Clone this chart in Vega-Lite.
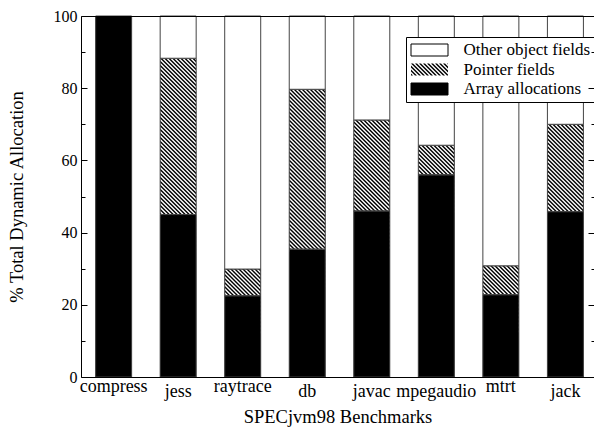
{
  "$schema": "https://vega.github.io/schema/vega-lite/v6.json",
  "width": 513,
  "height": 361,
  "autosize": {"type": "none"},
  "padding": {"left": 81, "top": 16, "right": 0, "bottom": 50},
  "background": "white",
  "config": {
    "font": "Liberation Serif",
    "view": {"stroke": null},
    "axis": {"grid": false, "labelColor": "black", "titleColor": "black", "titleFontWeight": "normal", "domainColor": "black", "tickColor": "black", "labelFont": "Liberation Serif", "titleFont": "Liberation Serif"}
  },
  "data": {
    "values": [
      {"benchmark": "compress", "type": "Array allocations", "value": 100},
      {"benchmark": "compress", "type": "Pointer fields", "value": 0},
      {"benchmark": "compress", "type": "Other object fields", "value": 0},
      {"benchmark": "jess", "type": "Array allocations", "value": 45.0},
      {"benchmark": "jess", "type": "Pointer fields", "value": 43.3},
      {"benchmark": "jess", "type": "Other object fields", "value": 11.7},
      {"benchmark": "raytrace", "type": "Array allocations", "value": 22.5},
      {"benchmark": "raytrace", "type": "Pointer fields", "value": 7.4},
      {"benchmark": "raytrace", "type": "Other object fields", "value": 70.1},
      {"benchmark": "db", "type": "Array allocations", "value": 35.4},
      {"benchmark": "db", "type": "Pointer fields", "value": 44.3},
      {"benchmark": "db", "type": "Other object fields", "value": 20.3},
      {"benchmark": "javac", "type": "Array allocations", "value": 46.0},
      {"benchmark": "javac", "type": "Pointer fields", "value": 25.2},
      {"benchmark": "javac", "type": "Other object fields", "value": 28.8},
      {"benchmark": "mpegaudio", "type": "Array allocations", "value": 56.0},
      {"benchmark": "mpegaudio", "type": "Pointer fields", "value": 8.2},
      {"benchmark": "mpegaudio", "type": "Other object fields", "value": 35.8},
      {"benchmark": "mtrt", "type": "Array allocations", "value": 22.8},
      {"benchmark": "mtrt", "type": "Pointer fields", "value": 8.0},
      {"benchmark": "mtrt", "type": "Other object fields", "value": 69.2},
      {"benchmark": "jack", "type": "Array allocations", "value": 45.8},
      {"benchmark": "jack", "type": "Pointer fields", "value": 24.2},
      {"benchmark": "jack", "type": "Other object fields", "value": 30.0}
    ]
  },
  "transform": [
    {"stack": "value", "groupby": ["benchmark"], "as": ["lo", "hi"]}
  ],
  "resolve": {"scale": {"y": "independent"}, "axis": {"x": "independent", "y": "independent"}},
  "layer": [
    {
      "mark": {"type": "bar"},
      "encoding": {
        "x": {
          "field": "benchmark", "type": "nominal",
          "sort": ["compress", "jess", "raytrace", "db", "javac", "mpegaudio", "mtrt", "jack"],
          "scale": {"paddingInner": 0.4422, "paddingOuter": 0.1954, "align": 0.58},
          "axis": {
            "orient": "bottom", "ticks": false, "domain": true, "labelAngle": 0,
            "labelFontSize": 18,
            "labelPadding": {"condition": {"test": "datum.value === 'compress' || datum.value === 'raytrace' || datum.value === 'mtrt'", "value": 0}, "value": 5},
            "title": "SPECjvm98 Benchmarks", "titleFontSize": 18.5, "titlePadding": 7, "zindex": 1
          }
        },
        "y": {
          "field": "lo", "type": "quantitative",
          "scale": {"domain": [0, 100], "nice": false},
          "axis": {
            "orient": "left", "values": [0, 20, 40, 60, 80, 100], "ticks": false, "domain": true,
            "labelFontSize": 16, "labelPadding": 4,
            "title": "% Total Dynamic Allocation", "titleFontSize": 18.5, "titlePadding": 27, "zindex": 1
          }
        },
        "y2": {"field": "hi"},
        "color": {
          "field": "type", "type": "nominal",
          "scale": {"domain": ["Other object fields", "Pointer fields", "Array allocations"], "range": ["white", "black", "black"]},
          "legend": {
            "title": null, "orient": "none", "legendX": 325, "legendY": 21,
            "fillColor": "white", "strokeColor": "black", "padding": 4.5,
            "symbolSize": 4, "symbolStrokeColor": "black", "symbolStrokeWidth": 1,
            "labelFont": "Liberation Serif", "labelFontSize": 17, "labelColor": "black",
            "labelOffset": 36, "rowPadding": 1.5, "labelLimit": 250,
            "encode": {
              "symbols": {
                "update": {
                  "shape": [
                    {"test": "datum.value === 'Pointer fields'", "value": "M-8,4L-6,6L-8,6ZM-8,0L-2,6L-4,6L-8,2ZM-8,-4L2,6L0,6L-8,-2ZM-8,-6L-6,-6L6,6L4,6ZM-4,-6L-2,-6L10,6L8,6ZM0,-6L2,-6L14,6L12,6ZM4,-6L6,-6L18,6L16,6ZM8,-6L10,-6L22,6L20,6ZM12,-6L14,-6L26,6L24,6ZM16,-6L18,-6L29,5L29,6L28,6ZM20,-6L22,-6L29,1L29,3ZM24,-6L26,-6L29,-3L29,-1ZM28,-6L29,-6L29,-5Z"},
                    {"value": "M-8,-6L29,-6L29,6L-8,6Z"}
                  ],
                  "stroke": [
                    {"test": "datum.value === 'Pointer fields'", "value": "transparent"},
                    {"value": "black"}
                  ]
                }
              }
            }
          }
        }
      }
    },
    {
      "transform": [{"filter": "datum.type === 'Pointer fields' && datum.value > 0"}],
      "mark": {
        "type": "point",
        "shape": "M-18,-204l36,36v2l-36,-36zM-18,-200l36,36v2l-36,-36zM-18,-196l36,36v2l-36,-36zM-18,-192l36,36v2l-36,-36zM-18,-188l36,36v2l-36,-36zM-18,-184l36,36v2l-36,-36zM-18,-180l36,36v2l-36,-36zM-18,-176l36,36v2l-36,-36zM-18,-172l36,36v2l-36,-36zM-18,-168l36,36v2l-36,-36zM-18,-164l36,36v2l-36,-36zM-18,-160l36,36v2l-36,-36zM-18,-156l36,36v2l-36,-36zM-18,-152l36,36v2l-36,-36zM-18,-148l36,36v2l-36,-36zM-18,-144l36,36v2l-36,-36zM-18,-140l36,36v2l-36,-36zM-18,-136l36,36v2l-36,-36zM-18,-132l36,36v2l-36,-36zM-18,-128l36,36v2l-36,-36zM-18,-124l36,36v2l-36,-36zM-18,-120l36,36v2l-36,-36zM-18,-116l36,36v2l-36,-36zM-18,-112l36,36v2l-36,-36zM-18,-108l36,36v2l-36,-36zM-18,-104l36,36v2l-36,-36zM-18,-100l36,36v2l-36,-36zM-18,-96l36,36v2l-36,-36zM-18,-92l36,36v2l-36,-36zM-18,-88l36,36v2l-36,-36zM-18,-84l36,36v2l-36,-36zM-18,-80l36,36v2l-36,-36zM-18,-76l36,36v2l-36,-36zM-18,-72l36,36v2l-36,-36zM-18,-68l36,36v2l-36,-36zM-18,-64l36,36v2l-36,-36zM-18,-60l36,36v2l-36,-36zM-18,-56l36,36v2l-36,-36zM-18,-52l36,36v2l-36,-36zM-18,-48l36,36v2l-36,-36zM-18,-44l36,36v2l-36,-36zM-18,-40l36,36v2l-36,-36zM-18,-36l36,36v2l-36,-36zM-18,-32l36,36v2l-36,-36zM-18,-28l36,36v2l-36,-36zM-18,-24l36,36v2l-36,-36zM-18,-20l36,36v2l-36,-36zM-18,-16l36,36v2l-36,-36zM-18,-12l36,36v2l-36,-36zM-18,-8l36,36v2l-36,-36zM-18,-4l36,36v2l-36,-36zM-18,0l36,36v2l-36,-36z",
        "size": 4, "filled": true, "fill": "white", "strokeWidth": 0, "opacity": 1, "clip": true
      },
      "encoding": {
        "x": {
          "field": "benchmark", "type": "nominal",
          "sort": ["compress", "jess", "raytrace", "db", "javac", "mpegaudio", "mtrt", "jack"],
          "axis": {"orient": "top", "labels": false, "ticks": false, "domain": true, "title": null, "zindex": 1}
        },
        "y": {
          "field": "lo", "type": "quantitative",
          "scale": {"domain": [0, 100], "nice": false},
          "axis": {
            "orient": "right", "offset": -513, "values": [0, 10, 20, 30, 40, 50, 60, 70, 80, 90, 100],
            "labels": false, "domain": false, "ticks": true,
            "tickSize": {"condition": {"test": "datum.value % 20 === 0", "value": 6}, "value": 4},
            "title": null, "zindex": 1
          }
        }
      }
    },
    {
      "transform": [{"filter": "datum.value > 0"}],
      "mark": {"type": "bar", "stroke": "#444", "strokeWidth": 1},
      "encoding": {
        "x": {
          "field": "benchmark", "type": "nominal",
          "sort": ["compress", "jess", "raytrace", "db", "javac", "mpegaudio", "mtrt", "jack"],
          "axis": null
        },
        "y": {
          "field": "lo", "type": "quantitative",
          "scale": {"domain": [0, 100], "nice": false},
          "axis": {
            "orient": "left", "offset": -513, "values": [0, 10, 20, 30, 40, 50, 60, 70, 80, 90, 100],
            "labels": false, "domain": true, "ticks": true,
            "tickSize": {"condition": {"test": "datum.value % 20 === 0", "value": 6}, "value": 3},
            "title": null, "zindex": 1
          }
        },
        "y2": {"field": "hi"},
        "fill": {
          "condition": [
            {"test": "datum.type === 'Array allocations'", "value": "black"},
            {"test": "datum.type === 'Pointer fields'", "value": "transparent"}
          ],
          "value": "white"
        }
      }
    }
  ]
}
